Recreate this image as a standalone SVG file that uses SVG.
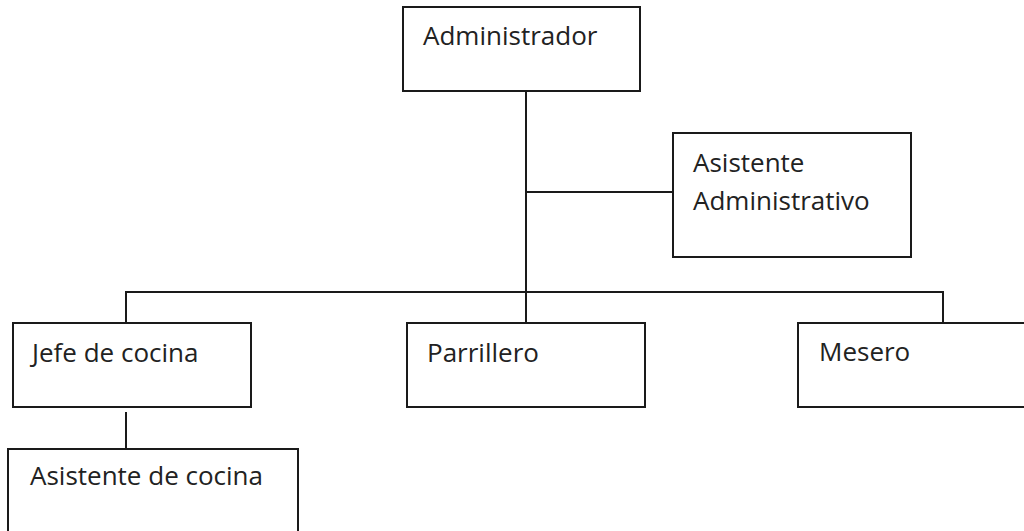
<svg xmlns="http://www.w3.org/2000/svg" width="1024" height="531" viewBox="0 0 1024 531">
<style>
.box{fill:#fff;stroke:#1a1a1a;stroke-width:2}
.lbl{font-family:"Open Sans","Noto Sans",sans-serif;font-size:26px;fill:#222}
.con line{stroke:#1a1a1a;stroke-width:2}
</style>
<rect width="1024" height="531" fill="#fff"/>
<g class="con" id="connectors">
<line x1="526" y1="91" x2="526" y2="323"/>
<line x1="526" y1="192" x2="673" y2="192"/>
<line x1="125" y1="292" x2="944" y2="292"/>
<line x1="126" y1="292" x2="126" y2="323"/>
<line x1="943" y1="292" x2="943" y2="323"/>
<line x1="126" y1="412" x2="126" y2="449"/>
</g>
<g id="administrador"><rect class="box" x="403" y="7" width="237" height="84"/><text class="lbl" x="423" y="45">Administrador</text></g>
<g id="asistente-administrativo"><rect class="box" x="673" y="133" width="238" height="124"/><text class="lbl" x="693" y="172">Asistente</text><text class="lbl" x="693" y="210">Administrativo</text></g>
<g id="jefe-cocina"><rect class="box" x="13" y="323" width="238" height="84"/><text class="lbl" x="32" y="362">Jefe de cocina</text></g>
<g id="parrillero"><rect class="box" x="407" y="323" width="238" height="84"/><text class="lbl" x="427" y="362">Parrillero</text></g>
<g id="mesero"><rect class="box" x="798" y="323" width="240" height="84"/><text class="lbl" x="819" y="361">Mesero</text></g>
<g id="asistente-cocina"><rect class="box" x="8" y="449" width="290" height="100"/><text class="lbl" x="30" y="485">Asistente de cocina</text></g>
</svg>
